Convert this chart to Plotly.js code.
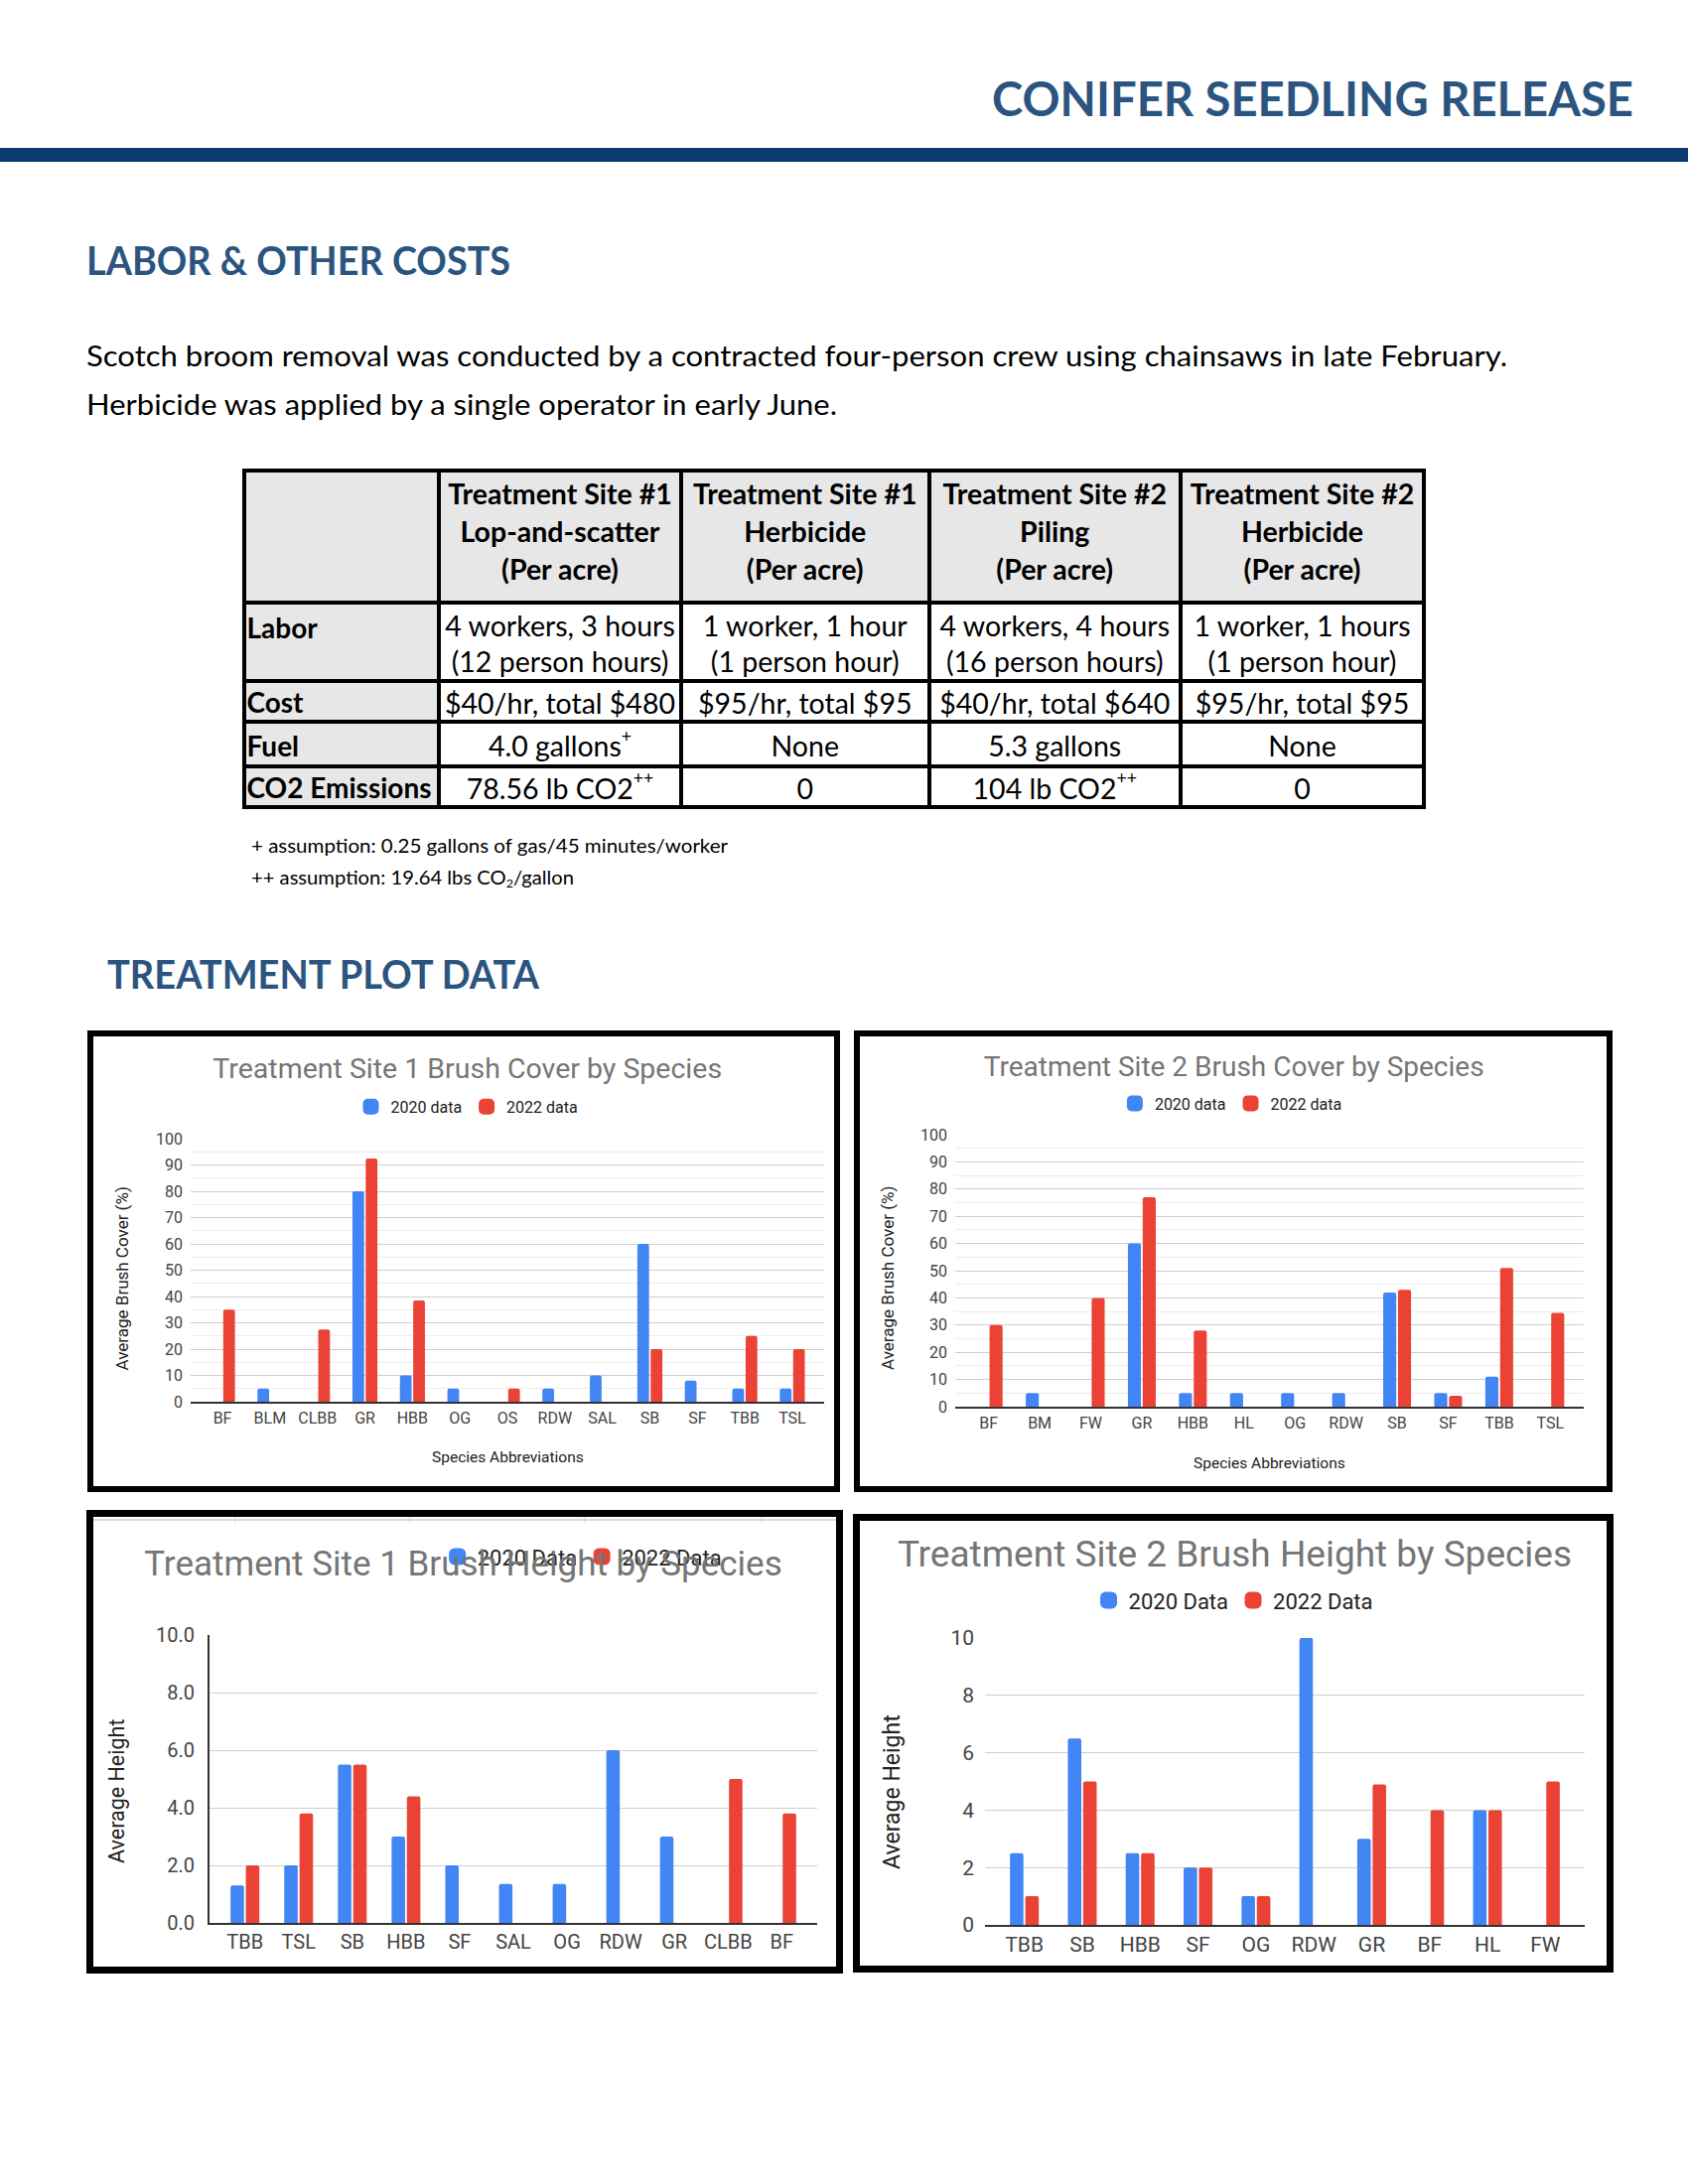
<!DOCTYPE html>
<html>
<head>
<meta charset="utf-8">
<script src="https://cdn.plot.ly/plotly-3.0.1.min.js"></script>
<style>
  html, body { margin:0; padding:0; background:#fff; }
  body { width:1700px; height:2200px; position:relative; overflow:hidden; font-family: Lato, "Noto Sans", sans-serif; }
  .t { position:absolute; white-space:nowrap; line-height:1; display:inline-block; transform-origin:left top; }
  .box { position:absolute; border-style:solid; border-color:#000; box-sizing:border-box; background:#fff; }
  .plot { position:absolute; }
  .cell { position:absolute; display:flex; align-items:center; box-sizing:border-box; font-family:Lato, sans-serif; color:#000; }
  .ln { position:absolute; background:#000; }
  .sup { position:relative; top:-0.55em; font-size:62%; }
  sub { font-size:62%; vertical-align: -0.25em; line-height:0; }
</style>
</head>
<body>

<script>
// ---------------- DATA ----------------
// Table
const tableColHeaders = [
  "Treatment Site #1\nLop-and-scatter\n(Per acre)",
  "Treatment Site #1\nHerbicide\n(Per acre)",
  "Treatment Site #2\nPiling\n(Per acre)",
  "Treatment Site #2\nHerbicide\n(Per acre)"
];
const tableRowLabels = ["Labor", "Cost", "Fuel", "CO2 Emissions"];
const laborValues = ["4 workers, 3 hours\n(12 person hours)", "1 worker, 1 hour\n(1 person hour)", "4 workers, 4 hours\n(16 person hours)", "1 worker, 1 hours\n(1 person hour)"];
const costValues = ["$40/hr, total $480", "$95/hr, total $95", "$40/hr, total $640", "$95/hr, total $95"];
const fuelValues = ["4.0 gallons^+", "None", "5.3 gallons", "None"];
const co2Values = ["78.56 lb CO2^++", "0", "104 lb CO2^++", "0"];

// Chart 1: Treatment Site 1 Brush Cover by Species
const site1CoverSpecies = ["BF","BLM","CLBB","GR","HBB","OG","OS","RDW","SAL","SB","SF","TBB","TSL"];
const site1Cover2020 = [null,5,null,80,10,5,null,5,10,60,8,5,5];
const site1Cover2022 = [35,null,27.5,92.5,38.5,null,5,null,null,20,null,25,20];

// Chart 2: Treatment Site 2 Brush Cover by Species
const site2CoverSpecies = ["BF","BM","FW","GR","HBB","HL","OG","RDW","SB","SF","TBB","TSL"];
const site2Cover2020 = [null,5,null,60,5,5,5,5,42,5,11,null];
const site2Cover2022 = [30,null,40,77,28,null,null,null,43,4,51,34.5];

// Chart 3: Treatment Site 1 Brush Height by Species
const site1HeightSpecies = ["TBB","TSL","SB","HBB","SF","SAL","OG","RDW","GR","CLBB","BF"];
const site1Height2020 = [1.3,2.0,5.5,3.0,2.0,1.35,1.35,6.0,3.0,null,null];
const site1Height2022 = [2.0,3.8,5.5,4.4,null,null,null,null,null,5.0,3.8];

// Chart 4: Treatment Site 2 Brush Height by Species
const site2HeightSpecies = ["TBB","SB","HBB","SF","OG","RDW","GR","BF","HL","FW"];
const site2Height2020 = [2.5,6.5,2.5,2.0,1.0,10,3.0,null,4.0,null];
const site2Height2022 = [1.0,5.0,2.5,2.0,1.0,null,4.9,4.0,4.0,5.0];
</script>

<!-- Header -->
<div class="t fit" data-w="646" style="left:999px; top:75px; font-weight:700; font-size:48px; color:#2b5580;">CONIFER SEEDLING RELEASE</div>
<div style="position:absolute; left:0; top:149px; width:1700px; height:14px; background:#0b3c6e;"></div>

<div class="t fit" data-w="427" style="left:87px; top:242px; font-weight:700; font-size:39.5px; color:#2b5580;">LABOR &amp; OTHER COSTS</div>

<div class="t fit" data-w="1431" style="left:87px; top:343px; font-size:29.5px; color:#000;">Scotch broom removal was conducted by a contracted four-person crew using chainsaws in late February.</div>
<div class="t fit" data-w="756" style="left:87px; top:392px; font-size:29.5px; color:#000;">Herbicide was applied by a single operator in early June.</div>

<div id="table"></div>

<div class="t fit" data-w="480" style="left:253px; top:843px; font-size:18.5px; color:#000;">+ assumption: 0.25 gallons of gas/45 minutes/worker</div>
<div class="t fit" data-w="325" style="left:253px; top:875px; font-size:18.5px; color:#000;">++ assumption: 19.64 lbs CO<sub>2</sub>/gallon</div>

<div class="t fit" data-w="435" style="left:108px; top:961px; font-weight:700; font-size:39.5px; color:#2b5580;">TREATMENT PLOT DATA</div>

<!-- Chart boxes -->
<div class="box" style="left:88px; top:1038px; width:758px; height:465px; border-width:6px;"></div>
<div class="box" style="left:860px; top:1038px; width:764px; height:465px; border-width:6px;"></div>
<div class="box" style="left:87px; top:1521px; width:762px; height:467px; border-width:7px;"></div>
<div class="box" style="left:859px; top:1525px; width:766px; height:462px; border-width:7px;"></div>

<div class="plot" id="c1" style="left:94px; top:1044px; width:746px; height:453px;"></div>
<div class="plot" id="c2" style="left:866px; top:1044px; width:752px; height:453px;"></div>
<div class="plot" id="c3" style="left:94px; top:1528px; width:748px; height:453px;"></div>
<div class="plot" id="c4" style="left:866px; top:1532px; width:752px; height:448px;"></div>

<!-- spreadsheet artifact on top of chart 3 -->
<div style="position:absolute; left:94px; top:1530px; width:748px; height:2px; background:#d9d9d9;"></div>
<div style="position:absolute; left:236px; top:1528px; width:1px; height:6px; background:#d9d9d9;"></div>
<div style="position:absolute; left:412px; top:1528px; width:1px; height:6px; background:#d9d9d9;"></div>
<div style="position:absolute; left:588px; top:1528px; width:1px; height:6px; background:#d9d9d9;"></div>
<div style="position:absolute; left:767px; top:1528px; width:1px; height:6px; background:#d9d9d9;"></div>

<script>
// ---------------- TABLE ----------------
(function(){
  const colX = [245.5, 442, 686, 935.5, 1189, 1434];
  const rowY = [474, 607, 685.5, 727, 772, 812.5];
  const lw = 4;
  const host = document.getElementById('table');
  function fmt(s){
    return s.replace(/CO2\^\+\+/g,'CO2<span class="sup">++</span>').replace(/\^\+/g,'<span class="sup">+</span>').replace(/\n/g,'<br>');
  }
  const rows = [laborValues, costValues, fuelValues, co2Values];
  let html = '';
  html += `<div style="position:absolute;left:${colX[0]}px;top:${rowY[0]}px;width:${colX[5]-colX[0]}px;height:${rowY[1]-rowY[0]}px;background:#e7e7e7"></div>`;
  html += `<div style="position:absolute;left:${colX[0]}px;top:${rowY[0]}px;width:${colX[1]-colX[0]}px;height:${rowY[5]-rowY[0]}px;background:#e7e7e7"></div>`;
  tableColHeaders.forEach((h,i)=>{
    html += `<div class="cell" style="left:${colX[i+1]}px;top:${rowY[0]}px;width:${colX[i+2]-colX[i+1]}px;height:${rowY[1]-rowY[0]}px;justify-content:center;text-align:center;font-weight:700;font-size:28.5px;line-height:38px;white-space:nowrap;padding-bottom:12px;">${fmt(h)}</div>`;
  });
  rows.forEach((r,ri)=>{
    const top = rowY[ri+1], h = rowY[ri+2]-rowY[ri+1];
    const labStyle = ri===0 ? 'align-items:flex-start;padding-top:7px;' : 'align-items:center;padding-top:2px;';
    html += `<div class="cell" style="left:${colX[0]+3}px;top:${top}px;width:${colX[1]-colX[0]-3}px;height:${h}px;justify-content:flex-start;font-weight:700;font-size:28px;line-height:36px;white-space:nowrap;${labStyle}">${tableRowLabels[ri]}</div>`;
    r.forEach((v,ci)=>{
      html += `<div class="cell" style="left:${colX[ci+1]}px;top:${top}px;width:${colX[ci+2]-colX[ci+1]}px;height:${h}px;justify-content:center;text-align:center;font-size:28.5px;line-height:36.5px;white-space:nowrap;padding-top:4px;">${fmt(v)}</div>`;
    });
  });
  colX.forEach(x=>{
    html += `<div class="ln" style="left:${x-lw/2}px;top:${rowY[0]-lw/2}px;width:${lw}px;height:${rowY[5]-rowY[0]+lw}px"></div>`;
  });
  rowY.forEach(y=>{
    html += `<div class="ln" style="left:${colX[0]-lw/2}px;top:${y-lw/2}px;width:${colX[5]-colX[0]+lw}px;height:${lw}px"></div>`;
  });
  host.innerHTML = html;
})();

// ---------------- TEXT FIT ----------------
function fitTexts(){
  document.querySelectorAll('.fit').forEach(el=>{
    el.style.transform = 'none';
    const w = el.getBoundingClientRect().width;
    const target = parseFloat(el.dataset.w);
    if (w > 0) el.style.transform = `scaleX(${target / w})`;
  });
}
fitTexts();
if (document.fonts && document.fonts.ready) document.fonts.ready.then(fitTexts);

// ---------------- CHARTS ----------------
const BLUE = '#4285F4', RED = '#EA4335';
function drawChart(id, cfg){
  const traces = [
    {type:'bar', x:cfg.cats, y:cfg.v1, name:cfg.names[0], legendgroup:'a', showlegend:false, marker:{color:BLUE}, hoverinfo:'skip'},
    {type:'bar', x:cfg.cats, y:cfg.v2, name:cfg.names[1], legendgroup:'b', showlegend:false, marker:{color:RED}, hoverinfo:'skip'},
    // legend entries (drawn on a hidden overlay axis so their bars are out of view; larger legend swatches)
    {type:'bar', x:[cfg.cats[0]], y:[1], xaxis:'x2', yaxis:'y2', name:cfg.names[0], legendgroup:'a', showlegend:true,
     marker:{color:BLUE, line:{color:BLUE, width:cfg.swatch}}, hoverinfo:'skip'},
    {type:'bar', x:[cfg.cats[0]], y:[1], xaxis:'x2', yaxis:'y2', name:cfg.names[1], legendgroup:'b', showlegend:true,
     marker:{color:RED, line:{color:RED, width:cfg.swatch}}, hoverinfo:'skip'}
  ];
  const n = cfg.cats.length;
  const layout = {
    width: cfg.w, height: cfg.h,
    margin: {l:cfg.m[0], r:cfg.m[1], t:cfg.m[2], b:cfg.m[3], pad:0},
    paper_bgcolor:'rgba(0,0,0,0)', plot_bgcolor:'#fff',
    font: {family:'Roboto, Arial, sans-serif', color:'#444'},
    title: {text:cfg.title, font:{size:cfg.titleSize, color:'#757575', family:'Roboto, Arial, sans-serif'},
            x:cfg.titleX, xref:'container', xanchor:'center', y:cfg.titleY, yref:'container', yanchor:'middle'},
    barmode:'group', bargap:cfg.bargap, bargroupgap:0.12, barcornerradius:2,
    showlegend:true,
    legend:{orientation:'h', x:cfg.legX, xanchor:'center', y:cfg.legY, yanchor:'middle',
            font:{size:cfg.legSize, color:'#222'}, bgcolor:'rgba(0,0,0,0)', traceorder:'normal'},
    xaxis:{type:'category', range:[-cfg.pad, n-1+cfg.pad], showgrid:false, zeroline:false,
           showline:true, linecolor:'#333', linewidth:2, ticks:'', tickfont:{size:cfg.tickSize, color:'#444'},
           ticklabelstandoff:cfg.xStand, fixedrange:true},
    yaxis:{range:cfg.yRange, dtick:cfg.dtick, tick0:0, tickformat:cfg.tickFmt, gridcolor:'#cfcfcf', gridwidth:1,
           zeroline:false, showline:!!cfg.yLine, linecolor:'#333', linewidth:2, ticks:'',
           tickfont:{size:cfg.tickSize, color:'#444'}, ticklabelstandoff:cfg.yStand, fixedrange:true,
           minor: cfg.minor ? {dtick:cfg.minor, showgrid:true, gridcolor:'#ececec', gridwidth:1} : undefined},
    xaxis2:{overlaying:'x', visible:false, type:'category', fixedrange:true},
    yaxis2:{overlaying:'y', visible:false, range:[5,6], fixedrange:true},
    annotations:[]
  };
  if (cfg.xTitle) layout.annotations.push({text:cfg.xTitle, xref:'paper', yref:'paper', x:0.5, y:0, xanchor:'center', yanchor:'middle',
      yshift:-cfg.xTitleOff, showarrow:false, font:{size:cfg.axTitleSize, color:'#222'}});
  layout.annotations.push({text:cfg.yTitle, xref:'paper', yref:'paper', x:0, y:cfg.yTitleY, xanchor:'center', yanchor:'middle',
      xshift:-cfg.yTitleOff, textangle:-90, showarrow:false, font:{size:cfg.yTitleSize || cfg.axTitleSize, color:'#222'}});
  Plotly.newPlot(id, traces, layout, {staticPlot:true, displayModeBar:false});
}

drawChart('c1', {
  cats:site1CoverSpecies, v1:site1Cover2020, v2:site1Cover2022, names:['2020 data','2022 data'], swatch:4,
  w:746, h:453, m:[98,10,103,85],
  title:'Treatment Site 1 Brush Cover by Species', titleSize:28.5, titleX:0.505, titleY:1-32.5/453,
  legX:0.4365, legY:1.121, legSize:16,
  bargap:0.44, pad:0.67, tickSize:16, xStand:1, yStand:7,
  yRange:[0,100], dtick:10, tickFmt:'d', minor:5,
  xTitle:'Species Abbreviations', xTitleOff:56, axTitleSize:15.5, yTitleSize:17, yTitle:'Average Brush Cover (%)', yTitleY:0.468, yTitleOff:69.5
});

drawChart('c2', {
  cats:site2CoverSpecies, v1:site2Cover2020, v2:site2Cover2022, names:['2020 data','2022 data'], swatch:4,
  w:752, h:453, m:[96,23,99,80],
  title:'Treatment Site 2 Brush Cover by Species', titleSize:28, titleX:0.501, titleY:1-30/453,
  legX:0.439, legY:1.115, legSize:16,
  bargap:0.42, pad:0.655, tickSize:16, xStand:1, yStand:7,
  yRange:[0,100], dtick:10, tickFmt:'d', minor:5,
  xTitle:'Species Abbreviations', xTitleOff:57, axTitleSize:15.5, yTitleSize:17, yTitle:'Average Brush Cover (%)', yTitleY:0.471, yTitleOff:68
});

drawChart('c3', {
  cats:site1HeightSpecies, v1:site1Height2020, v2:site1Height2022, names:['2020 Data','2022 Data'], swatch:5,
  w:748, h:453, m:[117,19,119,44],
  title:'Treatment Site 1 Brush Height by Species', titleSize:35, titleX:0.498, titleY:1-46.5/453,
  legX:0.613, legY:1.272, legSize:22,
  bargap:0.43, pad:0.66, tickSize:20, xStand:0, yStand:9,
  yRange:[0,10], dtick:2, tickFmt:'.1f', minor:null, yLine:true,
  xTitle:null, axTitleSize:21.5, yTitle:'Average Height', yTitleY:0.455, yTitleOff:94
});

drawChart('c4', {
  cats:site2HeightSpecies, v1:site2Height2020, v2:site2Height2022, names:['2020 Data','2022 Data'], swatch:5,
  w:752, h:448, m:[126,22,118,41],
  title:'Treatment Site 2 Brush Height by Species', titleSize:37, titleX:0.502, titleY:1-33.5/448,
  legX:0.414, legY:1.131, legSize:22,
  bargap:0.47, pad:0.68, tickSize:21, xStand:0, yStand:10,
  yRange:[0,10], dtick:2, tickFmt:'d', minor:null,
  xTitle:null, axTitleSize:23, yTitle:'Average Height', yTitleY:0.464, yTitleOff:93
});
</script>
</body>
</html>
